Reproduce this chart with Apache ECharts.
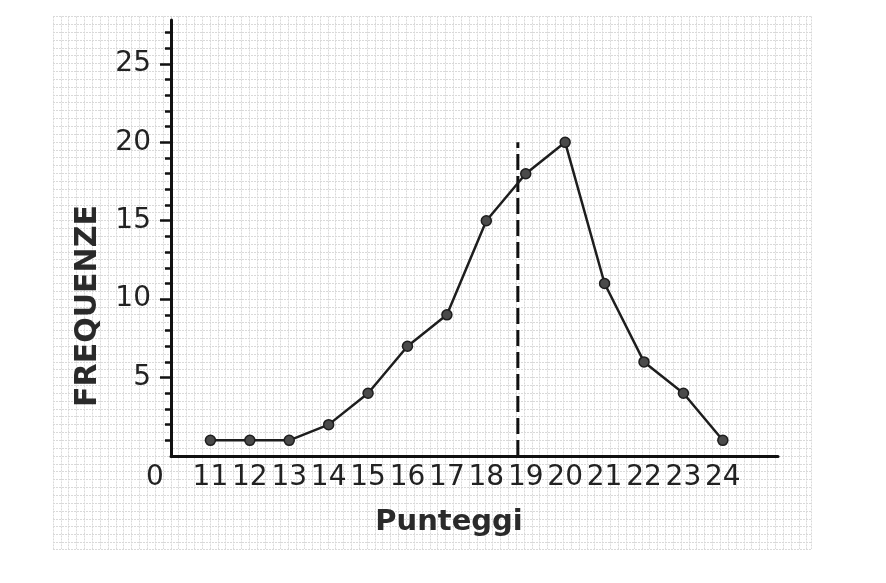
<!DOCTYPE html>
<html>
<head>
<meta charset="utf-8">
<script src="https://cdn.jsdelivr.net/npm/echarts@6/dist/echarts.min.js"></script>
<style>
html,body{margin:0;padding:0;background:#fff;}
#chart{width:886px;height:583px;}
</style>
</head>
<body>
<div id="chart"></div>
<script>
// ---- data ----
const scores = [11, 12, 13, 14, 15, 16, 17, 18, 19, 20, 21, 22, 23, 24];
const freqs  = [1, 1, 1, 2, 4, 7, 9, 15, 18, 20, 11, 6, 4, 1];
const meanScore = 18.8;
const meanLineTop = 20;
const xTickLabels = [10, 11, 12, 13, 14, 15, 16, 17, 18, 19, 20, 21, 22, 23, 24];
const yTickLabels = [5, 10, 15, 20, 25];
const yMinorTicks = [1,2,3,4,6,7,8,9,11,12,13,14,16,17,18,19,21,22,23,24,26,27];
const xName = 'Punteggi';
const yName = 'FREQUENZE';

const chart = echarts.init(document.getElementById('chart'), null, {renderer: 'canvas'});
const FONT = 'DejaVu Sans';
const paperLine = {show: true, lineStyle: {color: '#d9d9d9', width: 1, type: [2, 1]}};

const option = {
  backgroundColor: '#ffffff',
  animation: false,
  grid: [
    {left: 171, top: 20, right: 108, bottom: 127},
    {left: 53, top: 16.4, width: 758, height: 532.6, show: false}
  ],
  xAxis: [
    {
      type: 'value', gridIndex: 0, min: 10, max: 25.4, interval: 1,
      axisLine: {show: true, onZero: false, lineStyle: {color: '#111', width: 3}},
      axisTick: {show: false},
      splitLine: {show: false},
      axisLabel: {
        customValues: xTickLabels,
        margin: 8,
        color: '#222',
        fontFamily: FONT,
        fontSize: 28,
        formatter: v => (v === 10 ? '{z|0}' : String(v)),
        rich: {z: {fontFamily: FONT, fontSize: 28, color: '#222', padding: [0, 32, 0, 0]}}
      }
    },
    {
      type: 'value', gridIndex: 1, min: 0, max: 96.56, interval: 1,
      axisLine: {show: false}, axisTick: {show: false}, axisLabel: {show: false},
      splitLine: paperLine
    }
  ],
  yAxis: [
    {
      type: 'value', gridIndex: 0, min: 0, max: 27.8, interval: 5,
      axisLine: {show: true, onZero: false, lineStyle: {color: '#111', width: 3}},
      axisTick: {show: true, customValues: yTickLabels, length: 11, lineStyle: {color: '#111', width: 2.5}},
      splitLine: {show: false},
      axisLabel: {
        customValues: yTickLabels,
        margin: 20,
        color: '#222',
        fontFamily: FONT,
        fontSize: 28
      }
    },
    {
      type: 'value', gridIndex: 0, min: 0, max: 27.8, position: 'left',
      axisLine: {show: false},
      axisTick: {show: true, customValues: yMinorTicks, length: 6, lineStyle: {color: '#111', width: 2.5}},
      axisLabel: {show: false},
      splitLine: {show: false}
    },
    {
      type: 'value', gridIndex: 1, min: 0, max: 67.85, interval: 1, inverse: true,
      axisLine: {show: false}, axisTick: {show: false}, axisLabel: {show: false},
      splitLine: paperLine
    }
  ],
  graphic: [
    {
      type: 'text', x: 88, y: 306, rotation: Math.PI / 2, z: 100,
      style: {text: yName, fontFamily: FONT, fontWeight: 'bold', fontSize: 30, fill: '#2a2a2a', align: 'center', verticalAlign: 'middle'}
    },
    {
      type: 'text', x: 449, y: 522, z: 100,
      style: {text: xName, fontFamily: FONT, fontWeight: 'bold', fontSize: 29, fill: '#2a2a2a', align: 'center', verticalAlign: 'middle'}
    }
  ],
  series: [
    {
      type: 'line', xAxisIndex: 0, yAxisIndex: 0, z: 5,
      data: scores.map((s, i) => [s, freqs[i]]),
      symbol: 'circle', symbolSize: 10,
      lineStyle: {color: '#1e1e1e', width: 2.5},
      itemStyle: {color: '#4a4a4a', borderColor: '#1e1e1e', borderWidth: 1.5}
    },
    {
      type: 'line', xAxisIndex: 0, yAxisIndex: 0, z: 4,
      data: [[meanScore, 0], [meanScore, meanLineTop]],
      symbol: 'none',
      lineStyle: {color: '#111', width: 3, type: [16, 6]}
    }
  ]
};
chart.setOption(option);
</script>
</body>
</html>
